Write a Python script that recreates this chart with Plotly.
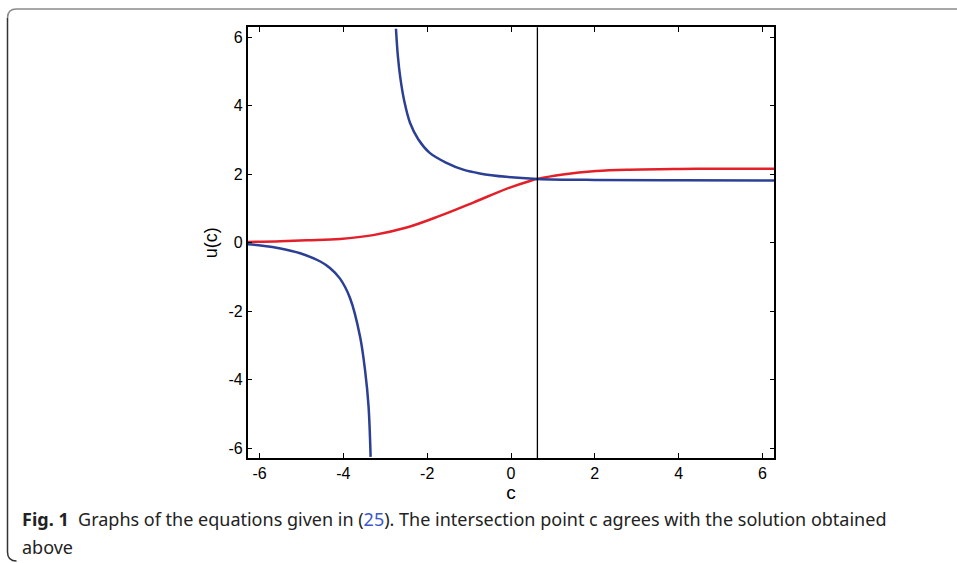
import plotly.graph_objects as go

# ---- data ----
red_c = [-6.28, -5.5, -4.87, -4.08, -3.29, -2.49, -1.70, -0.90, -0.11, 0.45, 0.63, 1.24, 2.03, 2.83, 4.0, 5.0, 6.28]
red_u = [0.02, 0.04, 0.07, 0.11, 0.22, 0.44, 0.78, 1.17, 1.57, 1.80, 1.86, 1.99, 2.09, 2.13, 2.15, 2.155, 2.155]

blue_upper_c = [-2.745, -2.70, -2.64, -2.55, -2.41, -2.21, -1.94, -1.54, -1.14, -0.745, -0.11, 0.63, 2.0, 4.0, 6.28]
blue_upper_u = [6.24, 5.45, 4.80, 4.15, 3.50, 3.01, 2.62, 2.33, 2.13, 2.02, 1.92, 1.86, 1.83, 1.82, 1.815]

blue_lower_c = [-6.28, -5.93, -5.50, -5.03, -4.55, -4.32, -4.08, -3.84, -3.60, -3.48, -3.40, -3.35]
blue_lower_u = [-0.05, -0.09, -0.17, -0.31, -0.55, -0.74, -1.05, -1.62, -2.75, -3.75, -4.76, -6.25]

intersection_c = 0.63

tick_vals = [-6, -4, -2, 0, 2, 4, 6]
tick_text = ["-6", "-4", "-2", "0", "2", "4", "6"]

axis_range = [-6.283, 6.283]

caption_line1 = ("<b>Fig. 1</b>  Graphs of the equations given in (<span style='color:#3b57c9'>25</span>). "
                 "The intersection point c agrees with the solution obtained")
caption_line2 = "above"

# ---- figure ----
W, H = 957, 563
x0, x1 = 247.7, 774.3
y0, y1 = 27.3, 458.0

RED = "#e3202a"
BLUE = "#2b3f94"

fig = go.Figure()
for cx, uy, col in [(red_c, red_u, RED), (blue_upper_c, blue_upper_u, BLUE), (blue_lower_c, blue_lower_u, BLUE)]:
    fig.add_trace(go.Scatter(x=cx, y=uy, mode="lines",
                             line=dict(color=col, width=2.5, shape="spline", smoothing=1.0),
                             showlegend=False, hoverinfo="skip"))

fig.add_shape(type="line", xref="x", yref="y domain", x0=intersection_c, x1=intersection_c,
              y0=0, y1=1, line=dict(color="black", width=1.3))

axis_common = dict(
    range=axis_range, tickvals=tick_vals, ticktext=tick_text,
    ticks="inside", ticklen=5, tickwidth=1.3, tickcolor="black",
    showline=True, linecolor="black", linewidth=1.5, mirror="ticks",
    showgrid=False, zeroline=False,
    tickfont=dict(family="Liberation Sans, Arial, sans-serif", size=16, color="black"),
)

fig.update_layout(
    width=W, height=H, autosize=False,
    margin=dict(l=0, r=0, t=0, b=0),
    paper_bgcolor="white", plot_bgcolor="white",
    xaxis=dict(domain=[x0 / W, x1 / W],
               title=dict(text="c", standoff=0,
                          font=dict(family="Liberation Sans, Arial, sans-serif", size=19, color="black")),
               **axis_common),
    yaxis=dict(domain=[1 - y1 / H, 1 - y0 / H],
               title=dict(text="u(c)", standoff=6,
                          font=dict(family="Liberation Sans, Arial, sans-serif", size=18, color="black")),
               **axis_common),
)

# caption
cap_font = dict(family="Noto Sans, Open Sans, sans-serif", size=18, color="#222222")
fig.add_annotation(xref="paper", yref="paper", x=20 / W, y=1 - 519 / H, xanchor="left", yanchor="middle",
                   text=caption_line1, showarrow=False, font=cap_font)
fig.add_annotation(xref="paper", yref="paper", x=20 / W, y=1 - 547 / H, xanchor="left", yanchor="middle",
                   text=caption_line2, showarrow=False, font=cap_font)

# frame (rounded box)
fx0, fy0, rr = 7.5, 9.0, 9
fig.add_shape(type="path", xref="paper", yref="paper",
              path=(f"M {fx0/W},{1-(fy0+rr)/H} Q {fx0/W},{1-fy0/H} {(fx0+rr)/W},{1-fy0/H} L 1,{1-fy0/H}"),
              line=dict(color="#8a8a8a", width=1.5))
fig.add_shape(type="path", xref="paper", yref="paper",
              path=(f"M {fx0/W},{1-(fy0+rr)/H} L {fx0/W},{1-(561-rr)/H} "
                    f"Q {fx0/W},{1-561/H} {(fx0+rr)/W},{1-561/H}"),
              line=dict(color="#333333", width=1.5))

fig.write_html("out.html", config={"displayModeBar": False},
               post_script="document.body.style.margin='0';document.body.style.overflow='hidden';")
